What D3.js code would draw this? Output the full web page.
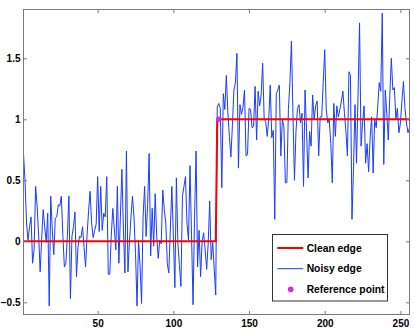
<!DOCTYPE html>
<html>
<head>
<meta charset="utf-8">
<script src="https://cdn.jsdelivr.net/npm/d3@7"></script>
<style>
  body { margin: 0; background: #fff; }
  svg text { font-family: "Liberation Sans", Arial, Helvetica, sans-serif; font-weight: bold; }
</style>
</head>
<body>
<div class="vis-edge"></div>
<script>
// noisy step signal, samples 1..256
const noisy = [
  0.72, 0.50, 0.15, 0.01, 0.12, 0.20, -0.18, -0.07, 0.45, 0.29,
  0.05, -0.25, 0.02, 0.26, 0.12, -0.01, 0.23, -0.53, 0.37, 0.10,
  -0.11, 0.19, 0.20, 0.30, 0.29, 0.37, 0.05, -0.21, -0.18, 0.05,
  0.37, -0.47, 0.04, 0.12, 0.24, -0.29, -0.05, 0.04, 0.03, 0.12,
  -0.05, -0.21, 0.05, 0.25, 0.41, 0.15, 0.03, 0.09, 0.14, 0.53,
  0.08, 0.45, 0.09, 0.23, 0.20, 0.53, -0.27, -0.27, 0.05, 0.27,
  0.10, -0.07, 0.45, -0.18, 0.20, 0.59, 0.10, -0.26, 0.74, -0.25,
  0.00, 0.20, 0.37, 0.19, -0.10, -0.53, 0.01, -0.20, -0.51, 0.20,
  0.45, 0.04, 0.30, 0.72, -0.12, 0.27, -0.04, 0.39, 0.04, -0.14,
  0.01, -0.02, 0.42, 0.26, 0.15, -0.18, -0.26, 0.10, 0.45, 0.05,
  -0.38, 0.52, -0.02, -0.20, -0.37, 0.37, 0.45, 0.53, 0.15, 0.01,
  0.62, 0.05, -0.52, 0.20, 0.74, -0.21, 0.09, -0.29, 0.00, 0.07,
  -0.07, -0.23, -0.02, 0.33, -0.15, -0.01, -0.23, -0.44,
  1.10, 1.13, 1.09, 0.44, 1.21, 1.08, 1.36, 1.06, 0.86, 0.69,
  0.95, 1.24, 1.30, 1.54, 0.60, 1.12, 1.04, 1.10, 1.24, 0.70,
  0.71, 1.09, 1.08, 0.93, 0.94, 1.27, 0.83, 1.23, 1.11, 1.20,
  1.46, 1.00, 0.98, 0.86, 1.00, 1.28, 0.85, 0.91, 0.18, 1.21,
  1.24, 1.28, 0.70, 1.00, 0.94, 0.48, 0.48, 1.08, 1.30, 1.64,
  1.05, 0.50, 0.90, 1.09, 1.12, 0.97, 1.05, 0.45, 1.24, 0.90,
  0.52, 0.90, 0.78, 1.20, 1.00, 1.11, 1.15, 0.70, 1.02, 1.02,
  1.30, 1.57, 1.08, 0.97, 1.00, 0.80, 0.48, 1.13, 0.86, 1.11,
  1.02, 1.08, 1.15, 1.23, 1.05, 0.90, 0.70, 1.39, 1.36, 0.18,
  0.59, 1.12, 0.64, 1.20, 1.79, 0.78, 0.97, 1.11, 0.64, 0.80,
  0.57, 0.85, 1.02, 0.56, 1.00, 0.93, 1.10, 1.30, 1.23, 1.87,
  0.63, 1.24, 1.05, 0.83, 1.20, 1.50, 1.24, 1.26, 1.00, 1.09,
  0.89, 0.97, 1.15, 1.31, 1.09, 0.97, 0.89, 0.93
];

// clean edge as breakpoints
const cleanX = [1, 128, 129, 256];
const cleanY = [0, 0, 1, 1];

const refX = [130];
const refY = [1];

const xTicks = [50, 100, 150, 200, 250];
const yTicks = [-0.5, 0, 0.5, 1, 1.5];
const yTickLabels = ["\u22120.5", "0", "0.5", "1", "1.5"];

const legendLabels = ["Clean edge", "Noisy edge", "Reference point"];

const W = 415, H = 328;
const margin = { top: 9.5, right: 5.5, bottom: 13.5, left: 23.5 };

const svg = d3.select('.vis-edge')
  .append('svg')
  .attr('width', W)
  .attr('height', H);

const x = d3.scaleLinear()
  .domain([1, 256])
  .range([margin.left, W - margin.right]);

const y = d3.scaleLinear()
  .domain([-0.6, 1.9])
  .range([H - margin.bottom, margin.top]);

const axisColor = '#7a7a7a';
const tickLen = 3.5;

// data lines
const line = d3.line()
  .x(d => x(d[0]))
  .y(d => y(d[1]));

let noisyPts = noisy.map((v, i) => [i + 1, v]);
let cleanPts = cleanX.map((v, i) => [v, cleanY[i]]);

svg.append('path')
  .datum(noisyPts)
  .attr('d', line)
  .attr('fill', 'none')
  .attr('stroke', '#1a3cff')
  .attr('stroke-width', 1)
  .attr('stroke-linejoin', 'round');

svg.append('path')
  .datum(cleanPts)
  .attr('d', line)
  .attr('fill', 'none')
  .attr('stroke', '#ff0000')
  .attr('stroke-width', 2);

svg.selectAll('.refpt')
  .data(refX)
  .enter()
  .append('circle')
  .attr('class', 'refpt')
  .attr('cx', d => x(d))
  .attr('cy', (d, i) => y(refY[i]))
  .attr('r', 2.8)
  .attr('fill', '#cc33dd');

// axes (MATLAB style box, inward ticks)
function styleAxis(g) {
  g.select('.domain').remove();
  g.selectAll('.tick line').attr('stroke', axisColor);
  g.selectAll('.tick text')
    .attr('fill', '#000')
    .style('font-size', '10px')
    .style('font-weight', 'bold');
}

svg.append('g')
  .attr('transform', 'translate(0,' + (H - margin.bottom) + ')')
  .call(d3.axisBottom(x).tickValues(xTicks).tickSizeInner(-tickLen).tickSizeOuter(0).tickPadding(5).tickFormat(d3.format('d')))
  .call(styleAxis);

svg.append('g')
  .attr('transform', 'translate(0,' + margin.top + ')')
  .call(d3.axisTop(x).tickValues(xTicks).tickSizeInner(-tickLen).tickSizeOuter(0).tickFormat(''))
  .call(styleAxis);

svg.append('g')
  .attr('transform', 'translate(' + margin.left + ',0)')
  .call(d3.axisLeft(y).tickValues(yTicks).tickSizeInner(-tickLen).tickSizeOuter(0).tickPadding(3)
    .tickFormat((d, i) => yTickLabels[i]))
  .call(styleAxis);

svg.append('g')
  .attr('transform', 'translate(' + (W - margin.right) + ',0)')
  .call(d3.axisRight(y).tickValues(yTicks).tickSizeInner(-tickLen).tickSizeOuter(0).tickFormat(''))
  .call(styleAxis);

svg.append('rect')
  .attr('x', margin.left)
  .attr('y', margin.top)
  .attr('width', W - margin.right - margin.left)
  .attr('height', H - margin.bottom - margin.top)
  .attr('fill', 'none')
  .attr('stroke', axisColor)
  .attr('stroke-width', 1);

// legend
const legend = svg.append('g')
  .attr('transform', 'translate(272.5,234.5)');

legend.append('rect')
  .attr('width', 115)
  .attr('height', 66.5)
  .attr('fill', '#fff')
  .attr('stroke', '#333')
  .attr('stroke-width', 1);

let legendG = legend.selectAll('.legend')
  .data(legendLabels)
  .enter().append('g')
  .attr('class', 'legend')
  .attr('transform', (d, i) => 'translate(0,' + (13.5 + i * 20.7) + ')');

legendG.filter((d, i) => i < 2)
  .append('line')
  .attr('x1', 4.8)
  .attr('x2', 30.8)
  .attr('stroke', (d, i) => i === 0 ? '#ff0000' : '#1a3cff')
  .attr('stroke-width', (d, i) => i === 0 ? 2 : 1);

legendG.filter((d, i) => i === 2)
  .append('circle')
  .attr('cx', 18.2)
  .attr('r', 2.8)
  .attr('fill', '#cc33dd');

legendG.append('text')
  .text(d => d)
  .attr('x', 34.2)
  .attr('dy', '0.35em')
  .style('font-size', '10.3px')
  .attr('fill', '#000');
</script>
</body>
</html>
